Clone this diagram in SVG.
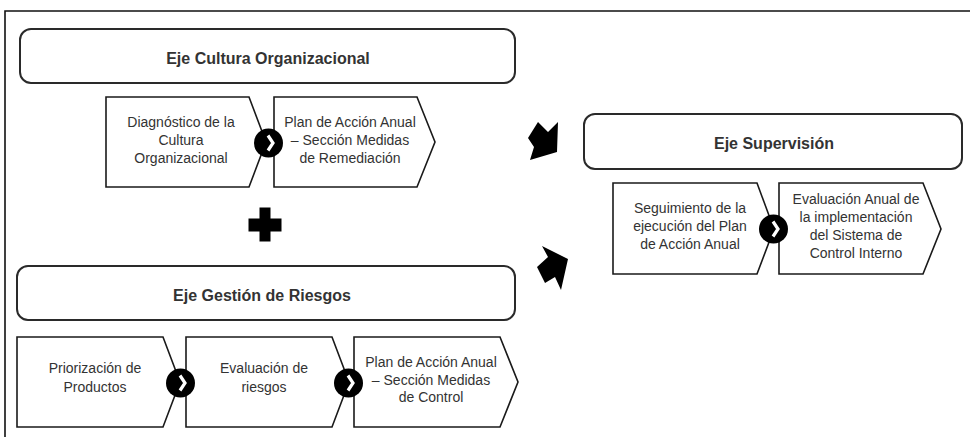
<svg xmlns="http://www.w3.org/2000/svg" width="971" height="437" viewBox="0 0 971 437">
<style>
.frame{fill:none;stroke:#111;stroke-width:1.6}
.hdr{fill:#fff;stroke:#2a2a2a;stroke-width:2}
.box{fill:#fff;stroke:#1a1a1a;stroke-width:1.6;stroke-linejoin:miter}
.ht{font-family:"Liberation Sans",Arial,sans-serif;font-size:16px;font-weight:bold;fill:#333;text-anchor:middle}
.bt{font-family:"Liberation Sans",Arial,sans-serif;font-size:14px;fill:#333;text-anchor:middle}
.dot{fill:#000}
.chev{fill:none;stroke:#fff;stroke-width:3.2;stroke-linecap:butt;stroke-linejoin:miter}
.blk{fill:#000}
</style>
<defs>
<g id="step">
<circle class="dot" cx="0" cy="0" r="14.5"/>
<polyline class="chev" points="-0.5,-7.5 4.5,0 -0.5,7.5"/>
</g>
</defs>
<rect width="971" height="437" fill="#fff"/>
<path class="frame" d="M5,445 V11 H970"/>

<g id="eje-cultura">
<rect class="hdr" x="20" y="29" width="495" height="54" rx="11"/>
<text class="ht" x="268" y="64">Eje Cultura Organizacional</text>
</g>
<g id="diagnostico">
<path class="box" d="M106,97 H249 L266,142 L249,187 H106 Z"/>
<text class="bt" x="181" y="127">Diagnóstico de la</text>
<text class="bt" x="181" y="145">Cultura</text>
<text class="bt" x="181" y="163">Organizacional</text>
</g>
<g id="plan-remediacion">
<path class="box" d="M274,97 H417 L435,142 L417,187 H274 Z"/>
<text class="bt" x="350" y="127">Plan de Acción Anual</text>
<text class="bt" x="350" y="145">– Sección Medidas</text>
<text class="bt" x="350" y="163">de Remediación</text>
</g>

<g id="eje-gestion">
<rect class="hdr" x="17" y="266" width="498" height="54" rx="11"/>
<text class="ht" x="262" y="301">Eje Gestión de Riesgos</text>
</g>
<g id="priorizacion">
<path class="box" d="M17,337 H163 L180,382 L163,427 H17 Z"/>
<text class="bt" x="95" y="373">Priorización de</text>
<text class="bt" x="95" y="392">Productos</text>
</g>
<g id="evaluacion-riesgos">
<path class="box" d="M186,337 H332 L349,382 L332,427 H186 Z"/>
<text class="bt" x="264" y="373">Evaluación de</text>
<text class="bt" x="264" y="392">riesgos</text>
</g>
<g id="plan-control">
<path class="box" d="M354,337 H500 L518,382 L500,427 H354 Z"/>
<text class="bt" x="431" y="367">Plan de Acción Anual</text>
<text class="bt" x="431" y="385">– Sección Medidas</text>
<text class="bt" x="431" y="402">de Control</text>
</g>

<g id="eje-supervision">
<rect class="hdr" x="584" y="114" width="378" height="55" rx="11"/>
<text class="ht" x="774" y="149">Eje Supervisión</text>
</g>
<g id="seguimiento">
<path class="box" d="M613,183 H757 L774,229 L757,274 H613 Z"/>
<text class="bt" x="690" y="213">Seguimiento de la</text>
<text class="bt" x="690" y="231">ejecución del Plan</text>
<text class="bt" x="690" y="248.5">de Acción Anual</text>
</g>
<g id="evaluacion-anual">
<path class="box" d="M779,183 H923 L941,229 L923,274 H779 Z"/>
<text class="bt" x="856" y="204">Evaluación Anual de</text>
<text class="bt" x="856" y="222">la implementación</text>
<text class="bt" x="856" y="240">del Sistema de</text>
<text class="bt" x="856" y="258">Control Interno</text>
</g>

<g id="connectors">
<use href="#step" x="268.5" y="143"/>
<use href="#step" x="180.5" y="383"/>
<use href="#step" x="348.5" y="383"/>
<use href="#step" x="773.5" y="229"/>
<path class="blk" d="M259.5,207.5 H270.5 V218.5 H281.5 V231.5 H270.5 V241.5 H259.5 V231.5 H248.5 V218.5 H259.5 Z"/>
<polygon class="blk" points="538,122 548,132 558,122 557,152 530,160 534,147 528,138"/>
<polygon class="blk" points="542,246 568,259 561,290 555,277 545,283 537,267 548,257"/>
</g>
</svg>
